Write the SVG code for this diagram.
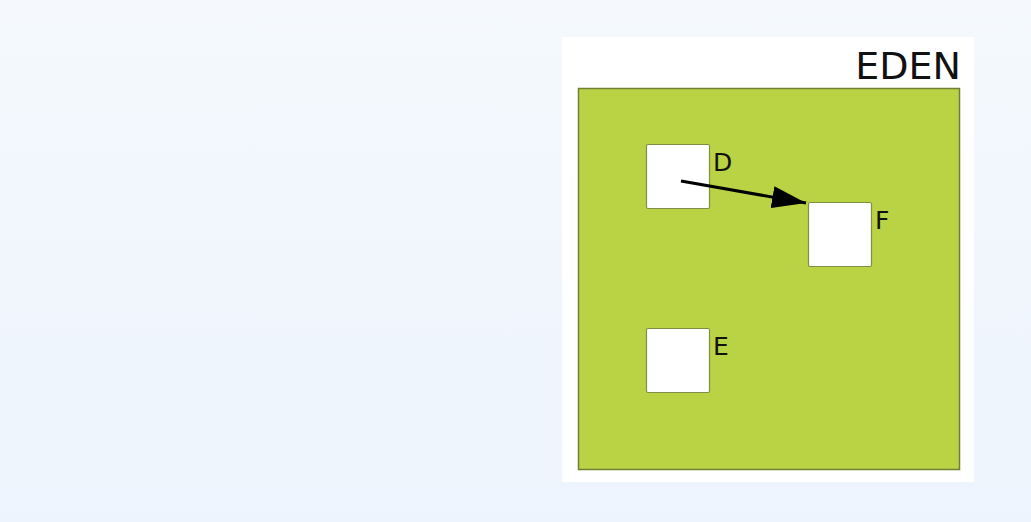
<svg xmlns="http://www.w3.org/2000/svg" width="1031" height="522" viewBox="0 0 1031 522">
<defs>
<linearGradient id="bg" x1="0" y1="0" x2="0" y2="1">
<stop offset="0" stop-color="#F5F9FD"/>
<stop offset="1" stop-color="#EDF4FD"/>
</linearGradient>
<marker id="ah" markerWidth="34" markerHeight="22" refX="34" refY="11" orient="auto" markerUnits="userSpaceOnUse">
<path d="M0,0 L34,11 L0,22 Z" fill="#000"/>
</marker>
<style>
.lbl{font-family:"DejaVu Sans",sans-serif;fill:#111;}
.box{fill:#fff;stroke:#7f8f45;stroke-width:1.2;}
</style>
</defs>
<rect width="1031" height="522" fill="url(#bg)"/>
<rect x="562" y="37" width="412" height="445" fill="#fff"/>
<g id="eden">
<rect x="578.5" y="88.5" width="381" height="381" fill="#BAD344" stroke="#6f7f35" stroke-width="1.5"/>
<text class="lbl" x="961" y="79" text-anchor="end" font-size="38">EDEN</text>
</g>
<g id="node-D">
<rect class="box" x="646.5" y="144.5" width="63" height="64" rx="1.5"/>
<text class="lbl" x="713" y="171" font-size="25">D</text>
</g>
<g id="node-F">
<rect class="box" x="808.5" y="202.5" width="63" height="64" rx="1.5"/>
<text class="lbl" x="875" y="229" font-size="25">F</text>
</g>
<g id="node-E">
<rect class="box" x="646.5" y="328.5" width="63" height="64" rx="1.5"/>
<text class="lbl" x="713" y="355" font-size="25">E</text>
</g>
<g id="connectors">
<line x1="681" y1="181" x2="806" y2="203" stroke="#000" stroke-width="3" marker-end="url(#ah)"/>
</g>
</svg>
